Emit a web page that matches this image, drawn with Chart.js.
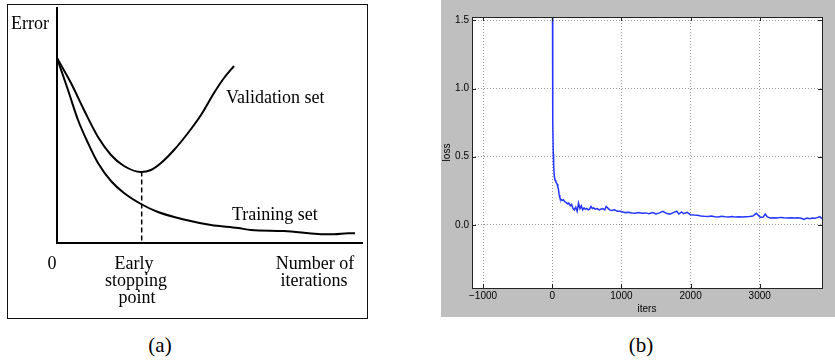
<!DOCTYPE html>
<html>
<head>
<meta charset="utf-8">
<script src="https://cdn.jsdelivr.net/npm/chart.js@4.4.0/dist/chart.umd.min.js"></script>
<style>
    body { margin: 0; background: #fff; width: 835px; height: 362px; position: relative; overflow: hidden; }
    #frameA { position: absolute; left: 7px; top: 4px; width: 359px; height: 313px; border: 1px solid #111; }
    #chartA { position: absolute; left: 0; top: 0; }
    #chartB { position: absolute; left: 441px; top: 0; background: #bfbfbf; }
    .cap { position: absolute; top: 333px; font-family: "Liberation Serif", serif; font-size: 21px; width: 60px; text-align: center; }
</style>
</head>
<body>
<div id="frameA"></div>
<canvas id="chartA" width="370" height="320"></canvas>
<canvas id="chartB" width="394" height="317"></canvas>
<div class="cap" style="left:130px">(a)</div>
<div class="cap" style="left:611px">(b)</div>
<script>
// (a) sketch curves, x = iterations, y = error (arbitrary units)
const validationX = [0, 14, 27, 41, 54, 67, 84, 94, 104, 117, 131, 144, 157, 167, 177];
const validationY = [185, 160, 133, 106, 88, 77, 71, 73, 80, 93, 110, 128, 150, 165, 177];
const trainingX = [0, 11, 21, 31, 41, 54, 67, 84, 101, 127, 154, 181, 194, 227, 261, 277, 291, 298];
const trainingY = [185, 153, 123, 100, 80, 62, 50, 39, 31, 23.5, 18, 15, 13, 12, 9, 8.7, 9.7, 9.7];
const earlyStop = 84.7;

// (b) training loss
const iters = [0, 5, 10, 15, 20, 30, 40, 50, 60, 70, 80, 90, 100, 110, 120, 140, 160, 180, 200, 220,
    240, 260, 280, 300, 320, 340, 360, 380, 400, 420, 440, 460, 480, 500, 520, 540, 560, 580, 600, 620,
    650, 680, 700, 730, 760, 780, 800, 830, 860, 900, 940, 980, 1020, 1060, 1100, 1150, 1200, 1250, 1300, 1350,
    1400, 1450, 1500, 1550, 1600, 1650, 1700, 1750, 1800, 1830, 1870, 1900, 1950, 2000, 2050, 2100, 2150, 2200, 2250, 2300,
    2350, 2400, 2450, 2500, 2550, 2600, 2650, 2700, 2750, 2800, 2850, 2900, 2950, 2980, 3010, 3050, 3080, 3110, 3150, 3200,
    3250, 3300, 3350, 3400, 3450, 3500, 3550, 3600, 3640, 3680, 3720, 3760, 3800, 3840, 3870, 3900];
const loss = [2.5, 1.2, 0.75, 0.52, 0.44, 0.36, 0.33, 0.32, 0.31, 0.3, 0.28, 0.26, 0.22, 0.2, 0.19, 0.18, 0.185, 0.17, 0.165, 0.155,
    0.16, 0.14, 0.15, 0.12, 0.11, 0.13, 0.1, 0.16, 0.12, 0.14, 0.11, 0.125, 0.115, 0.12, 0.11, 0.115, 0.135, 0.12, 0.125, 0.115,
    0.12, 0.11, 0.115, 0.12, 0.11, 0.135, 0.125, 0.11, 0.105, 0.11, 0.1, 0.1, 0.095, 0.09, 0.093, 0.088, 0.085, 0.09, 0.085, 0.088,
    0.082, 0.09, 0.08, 0.088, 0.1, 0.085, 0.078, 0.09, 0.1, 0.08, 0.095, 0.082, 0.092, 0.075, 0.072, 0.07, 0.065, 0.063, 0.062, 0.065,
    0.06, 0.058, 0.063, 0.06, 0.058, 0.062, 0.057, 0.06, 0.058, 0.06, 0.062, 0.065, 0.085, 0.07, 0.055, 0.058, 0.08, 0.058, 0.05, 0.052,
    0.05, 0.055, 0.052, 0.05, 0.053, 0.05, 0.052, 0.048, 0.04, 0.05, 0.045, 0.05, 0.048, 0.055, 0.06, 0.045];
const xTicks = [-1000, 0, 1000, 2000, 3000];
const yTicks = [0.0, 0.5, 1.0, 1.5];

function toPoints(xs, ys) {
    return xs.map((x, i) => ({ x: x, y: ys[i] }));
}

const sketchLabels = {
    id: 'sketchLabels',
    afterDraw(chart) {
        let ctx = chart.ctx;
        ctx.save();
        ctx.fillStyle = '#000';
        ctx.font = '18px "Liberation Serif"';
        ctx.textBaseline = 'alphabetic';
        ctx.textAlign = 'left';
        ctx.fillText('Error', 11, 29);
        ctx.fillText('Validation set', 226, 103);
        ctx.fillText('Training set', 232, 220);
        ctx.textAlign = 'center';
        ctx.fillText('0', 52, 269);
        ctx.fillText('Early', 134, 269);
        ctx.fillText('stopping', 136, 286);
        ctx.fillText('point', 137, 303);
        ctx.fillText('Number of', 315, 269);
        ctx.fillText('iterations', 314, 286);
        ctx.restore();
    }
};

function drawSketch() {
    let ctx = document.getElementById('chartA').getContext('2d');
    new Chart(ctx, {
        type: 'scatter',
        data: {
            datasets: [{
                data: toPoints(validationX, validationY),
                showLine: true, borderColor: '#000', borderWidth: 2, pointRadius: 0, cubicInterpolationMode: 'monotone'
            }, {
                data: toPoints(trainingX, trainingY),
                showLine: true, borderColor: '#000', borderWidth: 2, pointRadius: 0, cubicInterpolationMode: 'monotone'
            }, {
                data: [{ x: earlyStop, y: 71.5 }, { x: earlyStop, y: 0 }],
                showLine: true, borderColor: '#000', borderWidth: 1.5, borderDash: [5, 3], pointRadius: 0
            }]
        },
        options: {
            responsive: false, animation: false, devicePixelRatio: 1,
            layout: { padding: { left: 57, top: 8, right: 8, bottom: 77 } },
            plugins: { legend: { display: false }, tooltip: { enabled: false } },
            scales: {
                x: {
                    type: 'linear', min: 0, max: 305,
                    ticks: { display: false }, grid: { display: false, drawTicks: false },
                    border: { color: '#000', width: 2 },
                    afterFit: (s) => { s.height = 0; }
                },
                y: {
                    type: 'linear', min: 0, max: 235,
                    ticks: { display: false }, grid: { display: false, drawTicks: false },
                    border: { color: '#000', width: 2 },
                    afterFit: (s) => { s.width = 0; }
                }
            }
        },
        plugins: [sketchLabels]
    });
}

const whiteArea = {
    id: 'whiteArea',
    beforeDraw(chart) {
        let a = chart.chartArea;
        chart.ctx.save();
        chart.ctx.fillStyle = '#fff';
        chart.ctx.fillRect(a.left, a.top, a.right - a.left, a.bottom - a.top);
        chart.ctx.restore();
    }
};

const plotFrame = {
    id: 'plotFrame',
    afterDraw(chart) {
        let ctx = chart.ctx;
        let a = chart.chartArea;
        let xs = chart.scales.x;
        let ys = chart.scales.y;
        ctx.save();
        ctx.strokeStyle = '#222';
        ctx.lineWidth = 1;
        ctx.beginPath();
        xTicks.forEach((v) => {
            let px = Math.round(xs.getPixelForValue(v)) + 0.5;
            ctx.moveTo(px, a.bottom); ctx.lineTo(px, a.bottom - 4);
            ctx.moveTo(px, a.top); ctx.lineTo(px, a.top + 4);
        });
        yTicks.forEach((v) => {
            let py = Math.round(ys.getPixelForValue(v)) + 0.5;
            ctx.moveTo(a.left, py); ctx.lineTo(a.left + 4, py);
            ctx.moveTo(a.right, py); ctx.lineTo(a.right - 4, py);
        });
        ctx.stroke();
        ctx.strokeRect(Math.round(a.left) + 0.5, Math.round(a.top) + 0.5, Math.round(a.right - a.left), Math.round(a.bottom - a.top));
        ctx.restore();
    }
};

function drawLoss() {
    let ctx = document.getElementById('chartB').getContext('2d');
    new Chart(ctx, {
        type: 'line',
        data: {
            datasets: [{
                data: toPoints(iters, loss),
                borderColor: '#2436ff', borderWidth: 1.5, pointRadius: 0, tension: 0
            }]
        },
        options: {
            responsive: false, animation: false, devicePixelRatio: 1,
            layout: { padding: { left: 0, top: 17, right: 13, bottom: 0 } },
            plugins: { legend: { display: false }, tooltip: { enabled: false } },
            scales: {
                x: {
                    type: 'linear', min: -1160, max: 3900,
                    afterBuildTicks: (s) => { s.ticks = xTicks.map((v) => ({ value: v })); },
                    ticks: {
                        color: '#000', padding: 2, maxRotation: 0,
                        font: { family: '"Liberation Sans"', size: 10 },
                        callback: (v) => String(v).replace('-', '\u2212')
                    },
                    grid: { color: '#9a9a9a', drawTicks: false },
                    border: { display: false, dash: [1, 2] },
                    title: { display: true, text: 'iters', color: '#000', padding: { top: 0, bottom: 2 }, font: { family: '"Liberation Sans"', size: 10 } },
                    afterFit: (s) => { s.height = 29; }
                },
                y: {
                    type: 'linear', min: -0.463, max: 1.525,
                    afterBuildTicks: (s) => { s.ticks = yTicks.map((v) => ({ value: v })); },
                    ticks: {
                        color: '#000', padding: 3,
                        font: { family: '"Liberation Sans"', size: 10 },
                        callback: (v) => v.toFixed(1)
                    },
                    grid: { color: '#9a9a9a', drawTicks: false },
                    border: { display: false, dash: [1, 2] },
                    title: { display: true, text: 'loss', color: '#000', padding: 0, font: { family: '"Liberation Sans"', size: 10 } },
                    afterFit: (s) => { s.width = 31; }
                }
            }
        },
        plugins: [whiteArea, plotFrame]
    });
}

drawSketch();
drawLoss();
</script>
</body>
</html>
